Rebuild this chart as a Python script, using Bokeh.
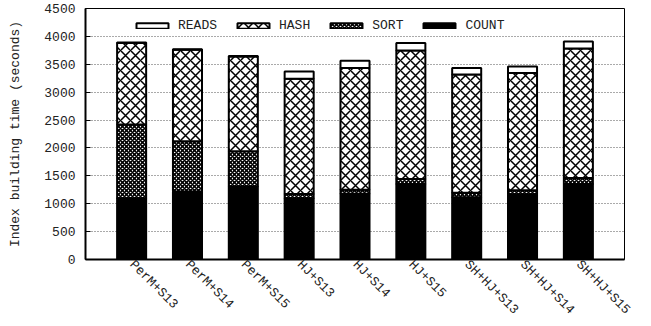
import math
from bokeh.plotting import figure
from bokeh.models import ColumnDataSource, FactorRange, Range1d, Legend, LegendItem, FixedTicker
from bokeh.transform import stack
from bokeh.embed import file_html
from bokeh.resources import INLINE

categories = ["PerM+S13", "PerM+S14", "PerM+S15", "HJ+S13", "HJ+S14", "HJ+S15",
              "SH+HJ+S13", "SH+HJ+S14", "SH+HJ+S15"]
count = [1100, 1220, 1310, 1100, 1180, 1355, 1115, 1170, 1355]
sort_ = [1320, 900, 630, 75, 70, 90, 80, 70, 105]
hash_ = [1460, 1640, 1700, 2065, 2185, 2300, 2120, 2105, 2325]
reads = [10, 10, 10, 130, 130, 135, 120, 115, 125]
y_ticks = [0, 500, 1000, 1500, 2000, 2500, 3000, 3500, 4000, 4500]

FONT = "Liberation Mono"
TXT = "#222222"

src = ColumnDataSource(dict(cat=categories, count=count, sort=sort_, hash=hash_, reads=reads))

p = figure(x_range=FactorRange(*categories, range_padding=0.326, range_padding_units="absolute"),
           y_range=Range1d(0, 4500),
           width=651, height=326, output_backend="svg", toolbar_location=None,
           min_border_left=85, min_border_right=27, min_border_top=8, min_border_bottom=67)

W = 0.52
r_count = p.vbar(x="cat", width=W, bottom=0, top=stack("count"), source=src,
                 fill_color="black", line_color="black", line_width=2)
r_sort = p.vbar(x="cat", width=W, bottom=stack("count"), top=stack("count", "sort"), source=src,
                fill_color="white", line_color="black", line_width=2,
                hatch_pattern="diagonal_cross", hatch_scale=4, hatch_weight=1.6, hatch_color="black")
r_hash = p.vbar(x="cat", width=W, bottom=stack("count", "sort"), top=stack("count", "sort", "hash"),
                source=src, fill_color="white", line_color="black", line_width=2,
                hatch_pattern="diagonal_cross", hatch_scale=10, hatch_weight=1.5, hatch_color="black")
r_reads = p.vbar(x="cat", width=W, bottom=stack("count", "sort", "hash"),
                 top=stack("count", "sort", "hash", "reads"), source=src,
                 fill_color="white", line_color="black", line_width=2)

legend = Legend(items=[LegendItem(label="READS", renderers=[r_reads]),
                       LegendItem(label="HASH", renderers=[r_hash]),
                       LegendItem(label="SORT", renderers=[r_sort]),
                       LegendItem(label="COUNT", renderers=[r_count])],
                orientation="horizontal", location=(47, 226),
                glyph_width=40, glyph_height=7, label_standoff=6, spacing=16,
                padding=0, margin=0, border_line_color=None, background_fill_alpha=0,
                label_text_font=FONT, label_text_font_size="13px", label_text_color=TXT)
p.add_layout(legend)

p.xgrid.visible = False
p.ygrid.grid_line_color = "#555555"
p.ygrid.grid_line_dash = "1 2"
p.ygrid.grid_line_width = 1
p.yaxis.ticker = FixedTicker(ticks=y_ticks)

p.outline_line_color = "black"
p.outline_line_width = 1

for ax in (p.xaxis, p.yaxis):
    ax.axis_line_width = 2
    ax.axis_line_color = "black"
    ax.major_label_text_font = FONT
    ax.major_label_text_font_size = "13px"
    ax.major_label_text_color = TXT
    ax.minor_tick_line_color = None

p.yaxis.major_tick_in = 5
p.yaxis.major_tick_out = 0
p.yaxis.major_label_standoff = 10
p.yaxis.axis_label = "Index building time (seconds)"
p.yaxis.axis_label_text_font = FONT
p.yaxis.axis_label_text_font_size = "13px"
p.yaxis.axis_label_text_font_style = "normal"
p.yaxis.axis_label_text_color = TXT
p.yaxis.axis_label_standoff = 18

p.xaxis.major_tick_line_color = None
p.xaxis.major_tick_in = 0
p.xaxis.major_tick_out = 0
p.xaxis.major_label_orientation = -math.pi / 4
p.xaxis.major_label_standoff = 3

p.background_fill_color = "white"
p.border_fill_color = "white"

open("out.html", "w").write(file_html(p, INLINE))
